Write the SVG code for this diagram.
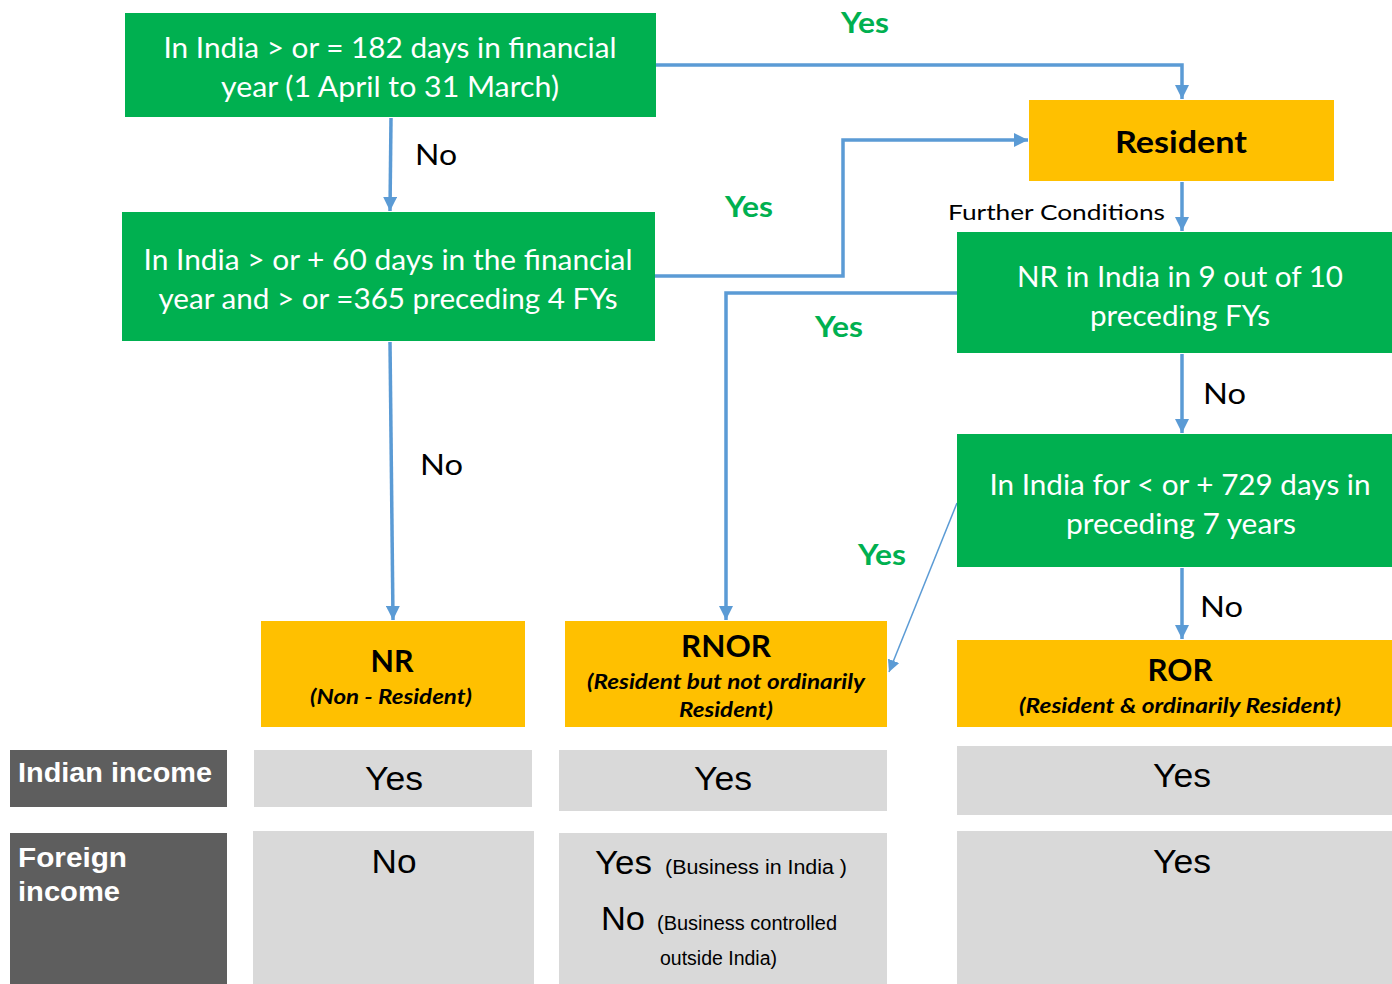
<svg xmlns="http://www.w3.org/2000/svg" width="1392" height="984" viewBox="0 0 1392 984">
<style>
.g{fill:#00B050}
.y{fill:#FFC000}
.d{fill:#5E5E5E}
.l{fill:#D9D9D9}
.wt{font-family:Lato,"Open Sans",sans-serif;font-size:28px;fill:#fff;text-anchor:middle;dominant-baseline:central}
.bt{font-family:Lato,"Open Sans",sans-serif;font-weight:bold;font-size:30px;fill:#000;text-anchor:middle;dominant-baseline:central}
.st{font-family:Lato,"Open Sans",sans-serif;font-weight:bold;font-style:italic;font-size:20px;fill:#000;text-anchor:middle;dominant-baseline:central}
.yes{font-family:Lato,"Open Sans",sans-serif;font-weight:bold;font-size:29px;fill:#00B050;dominant-baseline:central}
.no{font-family:Lato,"Open Sans",sans-serif;font-size:29px;fill:#000;dominant-baseline:central}
.fc{font-family:Lato,"Open Sans",sans-serif;font-size:22px;fill:#000;dominant-baseline:central}
.hd{font-family:"Liberation Sans",Arial,sans-serif;font-weight:bold;font-size:28px;fill:#fff;dominant-baseline:central}
.tv{font-family:"Liberation Sans",Arial,sans-serif;font-size:34px;fill:#000;text-anchor:middle;dominant-baseline:central}
.tvs{font-family:"Liberation Sans",Arial,sans-serif;font-size:34px;fill:#000;dominant-baseline:central}
.ts{font-family:"Liberation Sans",Arial,sans-serif;font-size:20px;fill:#000;dominant-baseline:central}
.c{fill:none;stroke:#5B9BD5;stroke-width:3.5}
.ct{fill:none;stroke:#5B9BD5;stroke-width:1.5}
</style>
<defs>
<marker id="a" viewBox="0 0 10 10" refX="10" refY="5" markerWidth="4" markerHeight="4" orient="auto" markerUnits="strokeWidth"><path d="M0,0 L10,5 L0,10 z" fill="#5B9BD5"/></marker>
<marker id="at" viewBox="0 0 10 10" refX="10" refY="5" markerWidth="8" markerHeight="8" orient="auto" markerUnits="strokeWidth"><path d="M0,0 L10,5 L0,10 z" fill="#5B9BD5"/></marker>
</defs>
<rect width="1392" height="984" fill="#fff"/>

<g id="connectors">
<path class="c" d="M656,65 H1182 V99" marker-end="url(#a)"/>
<path class="c" d="M391,118 L390,211" marker-end="url(#a)"/>
<path class="c" d="M655,276 H843 V140 H1028" marker-end="url(#a)"/>
<path class="c" d="M390,342 L393,620" marker-end="url(#a)"/>
<path class="c" d="M1182,182 V231" marker-end="url(#a)"/>
<path class="c" d="M957,293 H726 V620" marker-end="url(#a)"/>
<path class="c" d="M1182,354 V433" marker-end="url(#a)"/>
<path class="ct" d="M957,503 L889,672" marker-end="url(#at)"/>
<path class="c" d="M1182,568 V639" marker-end="url(#a)"/>
<text class="yes" x="841" y="21" textLength="48" lengthAdjust="spacingAndGlyphs">Yes</text>
<text class="no" x="415" y="153" textLength="42" lengthAdjust="spacingAndGlyphs">No</text>
<text class="yes" x="725" y="205" textLength="48" lengthAdjust="spacingAndGlyphs">Yes</text>
<text class="no" x="420" y="463" textLength="43" lengthAdjust="spacingAndGlyphs">No</text>
<text class="fc" x="948" y="211" textLength="217" lengthAdjust="spacingAndGlyphs">Further Conditions</text>
<text class="yes" x="815" y="325" textLength="48" lengthAdjust="spacingAndGlyphs">Yes</text>
<text class="no" x="1203" y="392" textLength="43" lengthAdjust="spacingAndGlyphs">No</text>
<text class="yes" x="858" y="553" textLength="48" lengthAdjust="spacingAndGlyphs">Yes</text>
<text class="no" x="1200" y="605" textLength="43" lengthAdjust="spacingAndGlyphs">No</text>
</g>

<g id="q1">
<rect class="g" x="125" y="13" width="531" height="104"/>
<text class="wt" x="390" y="47" textLength="453" lengthAdjust="spacingAndGlyphs">In India &gt; or = 182 days in financial</text>
<text class="wt" x="390" y="86" textLength="338" lengthAdjust="spacingAndGlyphs">year (1 April to 31 March)</text>
</g>

<g id="q2">
<rect class="g" x="122" y="212" width="533" height="129"/>
<text class="wt" x="388" y="259" textLength="489" lengthAdjust="spacingAndGlyphs">In India &gt; or + 60 days in the financial</text>
<text class="wt" x="388" y="298" textLength="459" lengthAdjust="spacingAndGlyphs">year and &gt; or =365 preceding 4 FYs</text>
</g>

<g id="resident">
<rect class="y" x="1029" y="100" width="305" height="81"/>
<text class="bt" x="1181" y="141" textLength="132" lengthAdjust="spacingAndGlyphs">Resident</text>
</g>

<g id="q3">
<rect class="g" x="957" y="232" width="435" height="121"/>
<text class="wt" x="1180" y="276" textLength="326" lengthAdjust="spacingAndGlyphs">NR in India in 9 out of 10</text>
<text class="wt" x="1180" y="315" textLength="180" lengthAdjust="spacingAndGlyphs">preceding FYs</text>
</g>

<g id="q4">
<rect class="g" x="957" y="434" width="435" height="133"/>
<text class="wt" x="1180" y="484" textLength="381" lengthAdjust="spacingAndGlyphs">In India for &lt; or + 729 days in</text>
<text class="wt" x="1181" y="523" textLength="230" lengthAdjust="spacingAndGlyphs">preceding 7 years</text>
</g>

<g id="nr">
<rect class="y" x="261" y="621" width="264" height="106"/>
<text class="bt" x="392" y="660" textLength="43" lengthAdjust="spacingAndGlyphs">NR</text>
<text class="st" x="391" y="696" textLength="162" lengthAdjust="spacingAndGlyphs">(Non - Resident)</text>
</g>

<g id="rnor">
<rect class="y" x="565" y="621" width="322" height="106"/>
<text class="bt" x="726" y="645" textLength="90" lengthAdjust="spacingAndGlyphs">RNOR</text>
<text class="st" x="726" y="681" textLength="278" lengthAdjust="spacingAndGlyphs">(Resident but not ordinarily</text>
<text class="st" x="726" y="709" textLength="94" lengthAdjust="spacingAndGlyphs">Resident)</text>
</g>

<g id="ror">
<rect class="y" x="957" y="640" width="435" height="87"/>
<text class="bt" x="1180" y="669" textLength="65" lengthAdjust="spacingAndGlyphs">ROR</text>
<text class="st" x="1180" y="705" textLength="322" lengthAdjust="spacingAndGlyphs">(Resident &amp; ordinarily Resident)</text>
</g>

<g id="row-indian">
<rect class="d" x="10" y="750" width="217" height="57"/>
<text class="hd" x="18" y="772" textLength="194" lengthAdjust="spacingAndGlyphs">Indian income</text>
<rect class="l" x="254" y="750" width="278" height="57"/>
<text class="tv" x="394" y="778" textLength="58" lengthAdjust="spacingAndGlyphs">Yes</text>
<rect class="l" x="559" y="750" width="328" height="61"/>
<text class="tv" x="723" y="778" textLength="58" lengthAdjust="spacingAndGlyphs">Yes</text>
<rect class="l" x="957" y="746" width="435" height="69"/>
<text class="tv" x="1182" y="775" textLength="58" lengthAdjust="spacingAndGlyphs">Yes</text>
</g>

<g id="row-foreign">
<rect class="d" x="10" y="833" width="217" height="151"/>
<text class="hd" x="18" y="857" textLength="109" lengthAdjust="spacingAndGlyphs">Foreign</text>
<text class="hd" x="18" y="891" textLength="102" lengthAdjust="spacingAndGlyphs">income</text>
<rect class="l" x="253" y="831" width="281" height="153"/>
<text class="tv" x="394" y="861" textLength="45" lengthAdjust="spacingAndGlyphs">No</text>
<rect class="l" x="559" y="833" width="328" height="151"/>
<text class="tvs" x="595" y="862" textLength="57" lengthAdjust="spacingAndGlyphs">Yes</text>
<text class="ts" x="665" y="867" textLength="182" lengthAdjust="spacingAndGlyphs">(Business in India )</text>
<text class="tvs" x="601" y="918" textLength="44" lengthAdjust="spacingAndGlyphs">No</text>
<text class="ts" x="657" y="923" textLength="180" lengthAdjust="spacingAndGlyphs">(Business controlled</text>
<text class="ts" x="660" y="958" textLength="117" lengthAdjust="spacingAndGlyphs">outside India)</text>
<rect class="l" x="957" y="831" width="435" height="153"/>
<text class="tv" x="1182" y="861" textLength="58" lengthAdjust="spacingAndGlyphs">Yes</text>
</g>
</svg>
